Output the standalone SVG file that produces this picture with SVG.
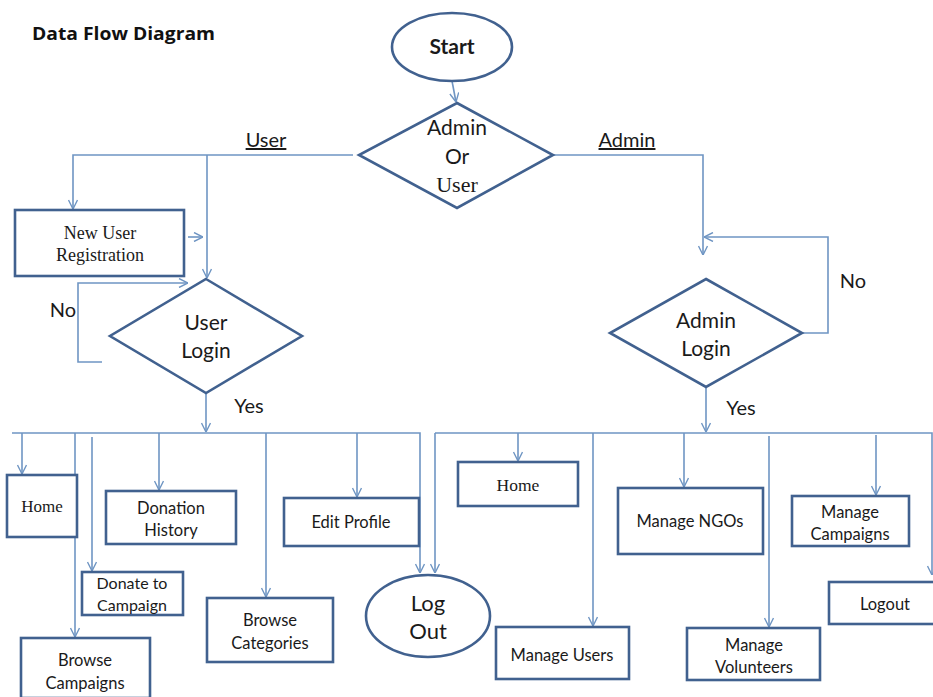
<svg xmlns="http://www.w3.org/2000/svg" width="933" height="697" viewBox="0 0 933 697">
<defs>
<marker id="ah" viewBox="0 0 10 10" refX="10" refY="5" markerWidth="10" markerHeight="10" markerUnits="userSpaceOnUse" orient="auto">
<path d="M1,0.5 L10,5 L1,9.5" fill="none" stroke="#6f95c3" stroke-width="1.4"/>
</marker>
<style>
.c{fill:none;stroke:#6f95c3;stroke-width:1.6}
.a{marker-end:url(#ah)}
.n{fill:#fff;stroke:#41618f;stroke-width:2.6}
.s{font-family:Lato,"Open Sans","Liberation Sans",sans-serif;fill:#1a1a1a;text-anchor:middle}
.t{font-family:"Liberation Serif","Times New Roman",serif;fill:#1a1a1a;text-anchor:middle}
.u{text-decoration:underline}
</style>
</defs>
<rect width="933" height="697" fill="#fff"/>
<text x="32" y="40" font-family="'Open Sans',Lato,'Liberation Sans',sans-serif" font-weight="bold" font-size="18.5" fill="#111" textLength="183" lengthAdjust="spacingAndGlyphs">Data Flow Diagram</text>

<g id="connectors">
<path class="c a" d="M452,81 L456,102"/>
<path class="c a" d="M353,155 H73 V209"/>
<path class="c a" d="M207,155 V278"/>
<path class="c a" d="M188,237 H203"/>
<path class="c a" d="M102,362 H78 V283 H188"/>
<path class="c a" d="M206,393 V432"/>
<path class="c a" d="M12,433 H420 V573"/>
<path class="c a" d="M22,433 V474"/>
<path class="c a" d="M75,433 V637"/>
<path class="c a" d="M92,437 V571"/>
<path class="c a" d="M159,433 V490"/>
<path class="c a" d="M266,433 V597"/>
<path class="c a" d="M357,433 V497"/>
<path class="c a" d="M553,155 H703 V255"/>
<path class="c a" d="M802,333 H828 V237 H704"/>
<path class="c a" d="M706,387 V432"/>
<path class="c a" d="M435,433 V573"/>
<path class="c a" d="M435,433 H932 V575"/>
<path class="c a" d="M518,433 V461"/>
<path class="c a" d="M593,433 V626"/>
<path class="c a" d="M684,433 V487"/>
<path class="c a" d="M769,436 V627"/>
<path class="c a" d="M876,435 V495"/>
</g>

<g id="labels">
<text class="s u" x="266" y="147" font-size="20">User</text>
<text class="s u" x="627" y="147" font-size="20">Admin</text>
<text class="s" x="63" y="317" font-size="20">No</text>
<text class="s" x="249" y="413" font-size="20">Yes</text>
<text class="s" x="853" y="288" font-size="20">No</text>
<text class="s" x="741" y="415" font-size="20">Yes</text>
</g>

<g id="start">
<ellipse class="n" cx="452" cy="47" rx="60" ry="34"/>
<text class="s" x="452" y="54" font-size="21" font-weight="bold">Start</text>
</g>
<g id="admin-or-user">
<polygon class="n" points="457,103 553,155 457,208 359,155"/>
<text class="s" x="457" y="135" font-size="21">Admin</text>
<text class="s" x="457" y="164" font-size="21">Or</text>
<text class="t" x="457" y="192" font-size="22">User</text>
</g>
<g id="new-user-registration">
<rect class="n" x="15" y="210" width="169" height="66"/>
<text class="t" x="100" y="239" font-size="18">New User</text>
<text class="t" x="100" y="261" font-size="18">Registration</text>
</g>
<g id="user-login">
<polygon class="n" points="206,279 302,336 206,393 110,336"/>
<text class="s" x="206" y="330" font-size="21">User</text>
<text class="s" x="206" y="358" font-size="21">Login</text>
</g>
<g id="admin-login">
<polygon class="n" points="706,279 802,333 706,387 610,333"/>
<text class="s" x="706" y="328" font-size="21">Admin</text>
<text class="s" x="706" y="356" font-size="21">Login</text>
</g>
<g id="user-home">
<rect class="n" x="7" y="475" width="70" height="62"/>
<text class="t" x="42" y="512" font-size="17">Home</text>
</g>
<g id="donation-history">
<rect class="n" x="106" y="491" width="130" height="53"/>
<text class="s" x="171" y="514" font-size="16.5">Donation</text>
<text class="s" x="171" y="536" font-size="16.5">History</text>
</g>
<g id="donate-to-campaign">
<rect class="n" x="82" y="572" width="101" height="43"/>
<text class="s" x="132" y="589" font-size="16">Donate to</text>
<text class="s" x="132" y="611" font-size="16">Campaign</text>
</g>
<g id="browse-campaigns">
<rect class="n" x="21" y="638" width="129" height="60"/>
<text class="s" x="85" y="666" font-size="16.5">Browse</text>
<text class="s" x="85" y="689" font-size="16.5">Campaigns</text>
</g>
<g id="browse-categories">
<rect class="n" x="207" y="598" width="126" height="64"/>
<text class="s" x="270" y="626" font-size="16.5">Browse</text>
<text class="s" x="270" y="649" font-size="16.5">Categories</text>
</g>
<g id="edit-profile">
<rect class="n" x="284" y="498" width="135" height="48"/>
<text class="s" x="351" y="528" font-size="16.5">Edit Profile</text>
</g>
<g id="log-out">
<ellipse class="n" cx="428" cy="616" rx="62" ry="41"/>
<text class="s" x="428" y="611" font-size="22">Log</text>
<text class="s" x="428" y="639" font-size="22">Out</text>
</g>
<g id="admin-home">
<rect class="n" x="458" y="462" width="120" height="44"/>
<text class="t" x="518" y="491" font-size="17.5">Home</text>
</g>
<g id="manage-users">
<rect class="n" x="496" y="627" width="133" height="52"/>
<text class="s" x="562" y="661" font-size="16.5">Manage Users</text>
</g>
<g id="manage-ngos">
<rect class="n" x="618" y="488" width="145" height="66"/>
<text class="s" x="690" y="527" font-size="16.5">Manage NGOs</text>
</g>
<g id="manage-volunteers">
<rect class="n" x="687" y="628" width="133" height="52"/>
<text class="s" x="754" y="651" font-size="16.5">Manage</text>
<text class="s" x="754" y="673" font-size="16.5">Volunteers</text>
</g>
<g id="manage-campaigns">
<rect class="n" x="792" y="496" width="117" height="50"/>
<text class="s" x="850" y="518" font-size="16.5">Manage</text>
<text class="s" x="850" y="540" font-size="16.5">Campaigns</text>
</g>
<g id="logout">
<rect class="n" x="829" y="582" width="110" height="42"/>
<text class="s" x="885" y="610" font-size="16.5">Logout</text>
</g>
</svg>
